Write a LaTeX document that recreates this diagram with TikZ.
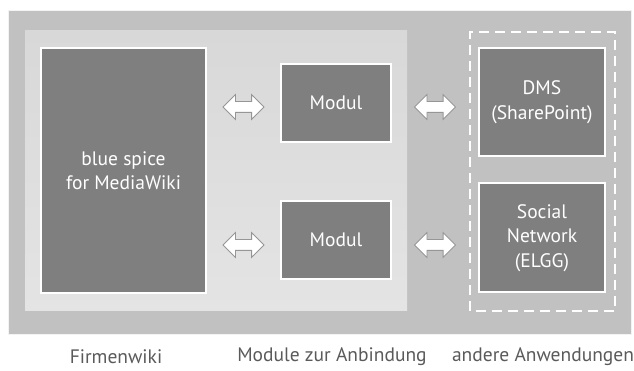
\documentclass[tikz,border=0pt]{standalone}
\usepackage{fontspec}
\setmainfont{PT Sans}
\usetikzlibrary{positioning}
\usetikzlibrary{shapes.arrows}
\usetikzlibrary{calc}
\definecolor{outergray}{RGB}{193,193,193}
\definecolor{innertop}{RGB}{216,216,216}
\definecolor{innerbot}{RGB}{228,228,228}
\definecolor{boxgray}{RGB}{127,127,127}
\definecolor{arrowline}{RGB}{150,150,150}
\definecolor{labelgray}{RGB}{90,90,90}
\tikzset{
	box/.style={draw=white, line width=2pt, rectangle, inner sep=2pt, fill=boxgray, text=white, align=center, font=\fontsize{19.5}{24.5}\selectfont},
	% hollow arrows between the boxes
	link/.style={double arrow, draw=arrowline, line width=0.8pt, fill=white, inner xsep=0pt, inner ysep=5pt, minimum height=41pt, double arrow head extend=7pt},
	caption/.style={text=labelgray, font=\fontsize{19.5}{24.5}\selectfont},
}

\begin{document}
\begin{tikzpicture}[x=1pt, y=1pt]
		\useasboundingbox (0,0) rectangle (634,371);
		% background areas
		\fill [outergray] (8,37) rectangle (631,361);
		\draw [white!80!outergray, line width=0.8pt] (8,37) rectangle (631,361);
		\shade [top color=innertop, bottom color=innerbot] (25,60) rectangle (407,340);
		
		\node (wiki) [box, minimum width=165pt, minimum height=245pt] at (123.5,200.5) {blue spice\\for MediaWiki};
		
		\node (m1) [box, minimum width=110pt, minimum height=78pt] at (336,268) {Modul};
		\node (m2) [box, minimum width=110pt, minimum height=78pt, below=57pt of m1] {Modul};
		
		\node (dms) [box, minimum width=126pt, minimum height=108pt] at (542,269) {DMS\\(SharePoint)};
		\node (soc) [box, minimum width=126pt, minimum height=109pt, below=25.5pt of dms] {Social\\Network\\(ELGG)};
		
		\draw [white, line width=2pt, dash pattern=on 10pt off 6pt] (470,60) rectangle (615,339);
		
		\node (a1) [link] at ($(m1.west)+(-36.5,-4)$) {};
		\node (a2) [link] at ($(m2.west)+(-36.5,-5)$) {};
		\node (a3) [link] at ($(m1.east)+(43,-4)$) {};
		\node (a4) [link] at ($(m2.east)+(43,-5)$) {};
		
		\node (c1) [caption] at (116,14) {Firmenwiki};
		\node (c2) [caption] at (332,14) {Module zur Anbindung};
		\node (c3) [caption] at (543,14) {andere Anwendungen};
	\end{tikzpicture}
\end{document}
